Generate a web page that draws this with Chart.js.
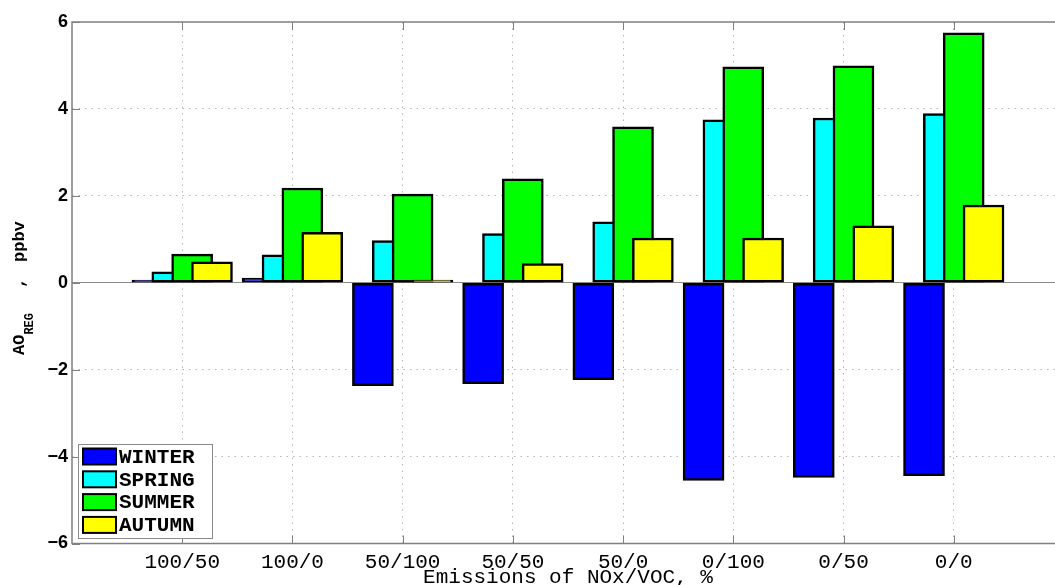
<!DOCTYPE html>
<html>
<head>
<meta charset="utf-8">
<title>AO REG</title>
<script src="https://cdn.jsdelivr.net/npm/chart.js@4.4.1/dist/chart.umd.min.js"></script>
<style>
  html, body { margin: 0; padding: 0; background: #fff; overflow: hidden; }
  #wrap { width: 1070px; height: 585px; }
</style>
</head>
<body>
<div id="wrap"><canvas id="chartAO"></canvas></div>
<script>
// data (ppbv)
const categories = ['100/50', '100/0', '50/100', '50/50', '50/0', '0/100', '0/50', '0/0'];
const winter = [0.06, 0.11, -2.37, -2.32, -2.23, -4.55, -4.48, -4.44];
const spring = [0.25, 0.64, 0.97, 1.13, 1.40, 3.75, 3.79, 3.89];
const summer = [0.66, 2.18, 2.04, 2.39, 3.59, 4.97, 4.99, 5.75];
const autumn = [0.48, 1.16, 0.06, 0.44, 1.03, 1.03, 1.31, 1.79];
const seriesNames = ['WINTER', 'SPRING', 'SUMMER', 'AUTUMN'];
const yTicks = [-6, -4, -2, 0, 2, 4, 6];

const seriesColors = ['#0000ff', '#00ffff', '#00ff00', '#ffff00'];
const shift = [-0.27, -0.09, 0.09, 0.27]; // overlapping bars, like the matlab plot

function toPoints(values, k) {
    return values.map((v, i) => ({ x: i + 1 + shift[k], y: v }));
}

function line(ctx, x1, y1, x2, y2) {
    ctx.beginPath();
    ctx.moveTo(x1, y1);
    ctx.lineTo(x2, y2);
    ctx.stroke();
}

// box round the axes + ticks pointing inward
const framePlugin = {
    id: 'frame',
    afterDatasetsDraw(chart) {
        const { ctx, chartArea: a, scales } = chart;
        ctx.save();
        ctx.strokeStyle = '#808080';
        ctx.lineWidth = 1;
        scales.x.ticks.forEach(t => {
            const px = Math.round(scales.x.getPixelForValue(t.value)) + 0.5;
            line(ctx, px, a.bottom, px, a.bottom - 8);
            line(ctx, px, a.top, px, a.top + 8);
        });
        scales.y.ticks.forEach(t => {
            const py = Math.round(scales.y.getPixelForValue(t.value)) + 0.5;
            line(ctx, a.left, py, a.left + 8, py);
            line(ctx, a.right, py, a.right - 8, py);
        });
        ctx.lineWidth = 1.5;
        ctx.strokeRect(a.left, a.top, a.right - a.left, a.bottom - a.top);
        ctx.restore();
    }
};

// legend box in the lower left corner + y label with subscript
const legendPlugin = {
    id: 'boxLegend',
    afterDraw(chart) {
        const { ctx, chartArea: a } = chart;
        const x0 = a.left + 6;
        const y0 = a.bottom - 99.5;
        ctx.save();
        ctx.fillStyle = '#ffffff';
        ctx.fillRect(x0, y0, 134, 94);
        ctx.strokeStyle = '#8a8a8a';
        ctx.lineWidth = 1;
        ctx.strokeRect(x0 + 0.5, y0 + 0.5, 134, 94);

        ctx.font = 'bold 21px "Liberation Mono"';
        ctx.textBaseline = 'middle';
        seriesNames.forEach((name, k) => {
            const cy = y0 + 12.5 + k * 22.8;
            ctx.fillStyle = seriesColors[k];
            ctx.fillRect(x0 + 5, cy - 8, 33, 16);
            ctx.strokeStyle = '#000';
            ctx.lineWidth = 2;
            ctx.strokeRect(x0 + 5, cy - 8, 33, 16);
            ctx.fillStyle = '#000';
            ctx.fillText(name, x0 + 41, cy + 1);
        });

        // y axis title: AO_REG , ppbv
        ctx.translate(24, 355);
        ctx.rotate(-Math.PI / 2);
        ctx.textBaseline = 'alphabetic';
        ctx.fillStyle = '#000';
        ctx.font = 'bold 17px "Liberation Mono"';
        ctx.fillText('AO', 0, 0);
        const w = ctx.measureText('AO').width;
        ctx.font = 'bold 12px "Liberation Mono"';
        ctx.fillText('REG', w, 9);
        ctx.font = 'bold 17px "Liberation Mono"';
        ctx.fillText(',', 67, 0);
        ctx.fillText('ppbv', 93, 0);
        ctx.restore();
    }
};

function createBarChart() {
    const ctx = document.getElementById('chartAO').getContext('2d');
    const lists = [winter, spring, summer, autumn];
    const datasets = lists.map((values, k) => ({
        label: seriesNames[k],
        data: toPoints(values, k),
        backgroundColor: seriesColors[k],
        borderColor: '#000000',
        borderWidth: 2.5,
        borderSkipped: false,
        barThickness: 41,
        grouped: false,
        order: 4 - k // autumn drawn on top
    }));

    new Chart(ctx, {
        type: 'bar',
        data: { datasets: datasets },
        plugins: [framePlugin, legendPlugin],
        options: {
            responsive: true,
            maintainAspectRatio: false,
            animation: false,
            layout: { padding: { top: 22, right: 6, left: 0, bottom: 0 } },
            plugins: { legend: { display: false }, tooltip: { enabled: false } },
            scales: {
                x: {
                    type: 'linear',
                    min: 0,
                    max: categories.length + 1,
                    offset: false,
                    afterBuildTicks: scale => {
                        scale.ticks = categories.map((c, i) => ({ value: i + 1 }));
                    },
                    afterFit: scale => { scale.height = 41.5; },
                    ticks: {
                        autoSkip: false,
                        maxRotation: 0,
                        padding: 6,
                        color: '#000',
                        font: { family: '"Liberation Mono"', size: 21 },
                        callback: value => categories[value - 1]
                    },
                    grid: { color: '#b4b4b4', lineWidth: 1, drawTicks: false, offset: false },
                    border: { display: false, dash: [1.5, 5] },
                    title: {
                        display: true,
                        text: 'Emissions of NOx/VOC, %',
                        color: '#000',
                        padding: { top: 0, bottom: 0 },
                        font: { family: '"Liberation Mono"', size: 21, lineHeight: 0.7 }
                    }
                },
                y: {
                    min: -6,
                    max: 6,
                    afterBuildTicks: scale => {
                        scale.ticks = yTicks.map(v => ({ value: v }));
                    },
                    afterFit: scale => { scale.width = 72; },
                    ticks: {
                        padding: 4,
                        color: '#000',
                        font: { family: '"Liberation Sans"', size: 18, weight: 'bold' },
                        callback: value => (value < 0 ? '\u2212' + Math.abs(value) : String(value))
                    },
                    grid: {
                        drawTicks: false,
                        lineWidth: 1,
                        color: c => (c.tick && Math.abs(c.tick.value) === 6 ? 'rgba(0,0,0,0)'
                            : (c.tick && c.tick.value === 0 ? '#8c8c8c' : '#b4b4b4'))
                    },
                    border: {
                        display: false,
                        dash: c => (c.tick && c.tick.value === 0 ? [] : [1.5, 5])
                    }
                }
            }
        }
    });
}

document.addEventListener('DOMContentLoaded', () => {
    createBarChart();
});
</script>
</body>
</html>
